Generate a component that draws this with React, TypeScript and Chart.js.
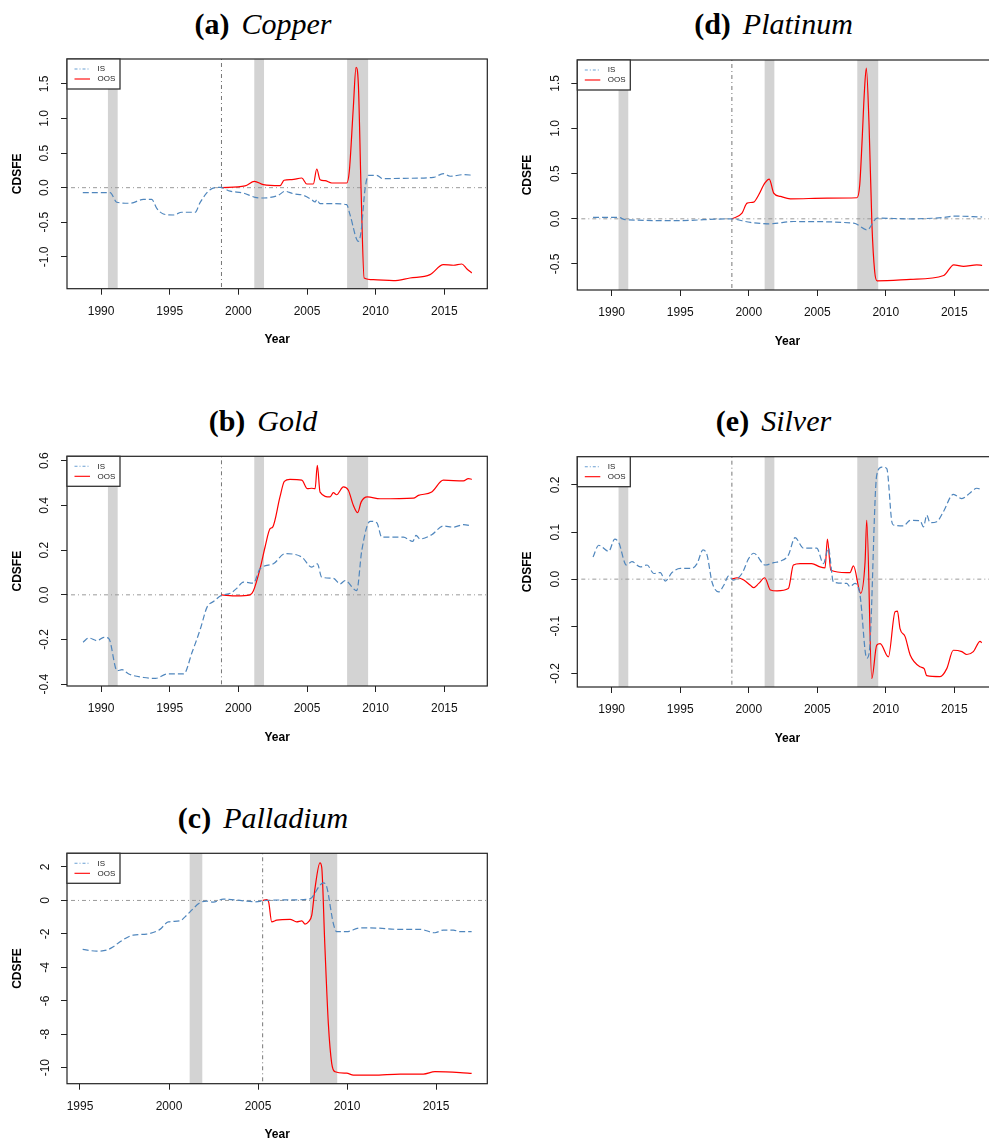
import React, { useEffect, useRef } from 'react';
import { Chart, registerables } from 'chart.js';

Chart.register(...registerables);

// ---------- data ----------
const recessions: [number, number][] = [
  [1990.5, 1991.21],
  [2001.16, 2001.87],
  [2007.92, 2009.45],
];
const oosStart = 1998.77;
const oosStartPalladium = 2005.26;

const yearTicks = [1990, 1995, 2000, 2005, 2010, 2015];
const yearTicksPalladium = [1995, 2000, 2005, 2010, 2015];
const copperYTicks = [-1, -0.5, 0, 0.5, 1, 1.5];
const goldYTicks = [-0.4, -0.2, 0, 0.2, 0.4, 0.6];
const palladiumYTicks = [-10, -8, -6, -4, -2, 0, 2];
const platinumYTicks = [-0.5, 0, 0.5, 1, 1.5];
const silverYTicks = [-0.2, -0.1, 0, 0.1, 0.2];

const copperIS: [number, number][] = [
  [1988.67, -0.07], [1990.66, -0.07], [1991.14, -0.21], [1992.11, -0.225], [1993.08, -0.17],
  [1993.69, -0.17], [1994.06, -0.3], [1994.54, -0.38], [1995.27, -0.395], [1995.88, -0.355],
  [1996.85, -0.355], [1997.21, -0.215], [1997.94, -0.03], [1998.67, 0.005], [1999.4, -0.05],
  [2000.36, -0.077], [2001.22, -0.139], [2001.82, -0.149], [2002.91, -0.11], [2003.4, -0.052],
  [2004.0, -0.087], [2004.73, -0.11], [2005.34, -0.173], [2005.59, -0.207], [2005.71, -0.173],
  [2005.95, -0.231], [2006.68, -0.231], [2007.89, -0.245], [2008.13, -0.39], [2008.74, -0.775],
  [2008.94, -0.63], [2009.22, -0.03], [2009.47, 0.179], [2010.08, 0.179], [2010.52, 0.13],
  [2011.77, 0.135], [2014.2, 0.15], [2014.93, 0.202], [2015.42, 0.165], [2016.39, 0.188],
  [2017.07, 0.18],
];
const copperOOS: [number, number][] = [
  [1998.79, 0], [2000.49, 0.025], [2001.17, 0.092], [2001.82, 0.043], [2003.04, 0.029],
  [2003.33, 0.107], [2003.89, 0.116], [2004.62, 0.14], [2004.98, 0.053], [2005.46, 0.053],
  [2005.71, 0.27], [2005.95, 0.116], [2006.31, 0.101], [2006.8, 0.068], [2007.89, 0.068],
  [2008.08, 0.237], [2008.37, 1.152], [2008.57, 1.74], [2008.74, 1.49], [2008.94, -0.05],
  [2009.16, -1.305], [2009.83, -1.33], [2011.29, -1.344], [2012.5, -1.305], [2013.96, -1.257],
  [2014.93, -1.113], [2015.66, -1.121], [2016.27, -1.103], [2016.63, -1.171], [2017.0, -1.233],
];

const goldIS: [number, number][] = [
  [1988.69, -0.212], [1989.1, -0.193], [1989.71, -0.205], [1990.2, -0.19], [1990.56, -0.195],
  [1991.17, -0.34], [1991.53, -0.335], [1992.02, -0.354], [1993.11, -0.37], [1993.96, -0.374],
  [1994.81, -0.354], [1996.02, -0.354], [1996.63, -0.257], [1997.23, -0.153], [1997.72, -0.055],
  [1998.21, -0.029], [1998.74, -0.003], [1999.42, 0.007], [1999.9, 0.03], [2000.36, 0.057],
  [2001.09, 0.052], [2001.58, 0.117], [2002.55, 0.139], [2003.4, 0.184], [2004.62, 0.169],
  [2005.34, 0.124], [2005.75, 0.139], [2006.07, 0.079], [2006.92, 0.074], [2007.41, 0.049],
  [2007.77, 0.064], [2008.62, 0.019], [2008.99, 0.199], [2009.59, 0.329], [2010.08, 0.323],
  [2010.44, 0.258], [2012.02, 0.258], [2012.7, 0.239], [2012.94, 0.266], [2013.23, 0.25],
  [2014.08, 0.269], [2014.93, 0.308], [2015.66, 0.303], [2016.39, 0.314], [2017.0, 0.308],
];
const goldOOS: [number, number][] = [
  [1998.77, 0], [1999.9, -0.005], [2000.85, 0.0], [2001.09, 0.017], [2001.58, 0.117],
  [2001.94, 0.213], [2002.31, 0.296], [2002.5, 0.303], [2003.03, 0.438], [2003.35, 0.508],
  [2003.76, 0.517], [2004.62, 0.513], [2005.03, 0.475], [2005.34, 0.477], [2005.59, 0.475],
  [2005.75, 0.58], [2005.95, 0.46], [2006.68, 0.438], [2006.92, 0.457], [2007.16, 0.448],
  [2007.65, 0.483], [2008.01, 0.468], [2008.38, 0.4], [2008.69, 0.368], [2008.94, 0.415],
  [2009.4, 0.438], [2010.32, 0.43], [2012.75, 0.433], [2013.11, 0.445], [2014.08, 0.46],
  [2014.93, 0.513], [2016.39, 0.51], [2016.75, 0.52], [2017.0, 0.517],
];

const palladiumIS: [number, number][] = [
  [1995.15, -2.93], [1995.94, -3.03], [1996.5, -2.97], [1996.87, -2.77], [1997.25, -2.47],
  [1997.99, -2.07], [1998.75, -2.01], [1999.49, -1.73], [1999.96, -1.28], [2000.62, -1.22],
  [2000.9, -0.98], [2001.18, -0.68], [2001.74, -0.14], [2002.12, -0.04], [2002.49, -0.1],
  [2003.05, 0.08], [2003.99, 0.0], [2004.83, -0.08], [2005.49, 0.0], [2006.42, 0.03],
  [2007.74, 0.06], [2008.02, 0.17], [2008.48, 0.91], [2008.67, 1.05], [2008.86, 0.81],
  [2009.23, -1.37], [2009.42, -1.87], [2009.98, -1.87], [2010.73, -1.64], [2011.29, -1.64],
  [2012.98, -1.73], [2014.1, -1.73], [2014.94, -1.93], [2015.41, -1.77], [2015.97, -1.77],
  [2016.35, -1.87], [2017.0, -1.87],
];
const palladiumOOS: [number, number][] = [
  [2005.26, 0], [2005.49, 0.05], [2005.6, -0.1], [2005.77, -1.28], [2006.05, -1.18],
  [2006.8, -1.13], [2007.17, -1.28], [2007.46, -1.22], [2007.64, -1.41], [2007.83, -1.28],
  [2008.02, -0.88], [2008.2, 0.72], [2008.48, 2.25], [2008.58, 1.97], [2008.75, -2.57],
  [2008.95, -7.35], [2009.14, -9.74], [2009.33, -10.24], [2009.98, -10.33], [2010.36, -10.44],
  [2011.48, -10.44], [2012.98, -10.38], [2014.29, -10.38], [2014.94, -10.24], [2016.35, -10.29],
  [2017.0, -10.34],
];

const platinumIS: [number, number][] = [
  [1988.64, 0.015], [1990.51, 0.015], [1990.99, -0.01], [1994.77, -0.02], [1998.66, 0.0],
  [2000.12, -0.04], [2001.58, -0.055], [2003.28, -0.03], [2007.66, -0.048], [2008.64, -0.122],
  [2009.37, 0.007], [2011.8, 0.0], [2014.23, 0.015], [2014.96, 0.03], [2017.03, 0.02],
];
const platinumOOS: [number, number][] = [
  [1998.77, 0], [1999.51, 0.063], [1999.88, 0.174], [2000.36, 0.185], [2000.73, 0.266],
  [2001.17, 0.395], [2001.5, 0.44], [2001.82, 0.285], [2002.31, 0.248], [2003.04, 0.221],
  [2005.72, 0.229], [2007.9, 0.233], [2008.1, 0.377], [2008.27, 0.857], [2008.44, 1.41],
  [2008.58, 1.669], [2008.78, 1.04], [2008.99, -0.066], [2009.19, -0.583], [2009.37, -0.687],
  [2011.8, -0.671], [2014.23, -0.627], [2014.96, -0.509], [2015.67, -0.527], [2016.64, -0.509],
  [2017.03, -0.516],
];

const silverIS: [number, number][] = [
  [1988.64, 0.047], [1989.05, 0.072], [1989.78, 0.059], [1990.22, 0.085], [1990.51, 0.078],
  [1991.07, 0.03], [1991.48, 0.037], [1992.09, 0.026], [1992.58, 0.03], [1993.07, 0.012],
  [1993.55, 0.014], [1993.91, -0.004], [1994.4, 0.014], [1995.01, 0.023], [1995.86, 0.023],
  [1996.23, 0.033], [1996.66, 0.062], [1996.96, 0.051], [1997.32, -0.006], [1997.81, -0.027],
  [1998.18, -0.013], [1998.54, 0.007], [1998.85, -0.002], [1999.51, 0.012], [2000.0, 0.044],
  [2000.36, 0.055], [2001.21, 0.03], [2001.82, 0.035], [2002.29, 0.038], [2002.89, 0.051],
  [2003.38, 0.088], [2003.99, 0.066], [2004.96, 0.066], [2005.45, 0.033], [2005.81, 0.066],
  [2006.18, -0.006], [2007.15, -0.009], [2007.39, -0.016], [2007.76, -0.009], [2008.12, -0.034],
  [2008.61, -0.168], [2008.8, -0.154], [2009.34, 0.221], [2009.71, 0.238], [2010.07, 0.235],
  [2010.44, 0.122], [2010.56, 0.115], [2011.29, 0.113], [2011.78, 0.125], [2012.5, 0.124],
  [2012.75, 0.111], [2012.99, 0.136], [2013.23, 0.12], [2013.72, 0.122], [2014.2, 0.143],
  [2014.93, 0.18], [2015.55, 0.171], [2016.15, 0.183], [2016.64, 0.193], [2017.0, 0.19],
];
const silverOOS: [number, number][] = [
  [1998.77, 0], [1999.15, 0.003], [1999.64, -0.002], [2000.12, -0.013], [2000.36, -0.018],
  [2000.73, -0.009], [2001.17, 0.003], [2001.58, -0.023], [2002.07, -0.025], [2002.89, -0.02],
  [2003.26, 0.03], [2003.75, 0.033], [2004.6, 0.033], [2005.2, 0.026], [2005.57, 0.024],
  [2005.74, 0.085], [2005.99, 0.019], [2007.15, 0.014], [2007.39, 0.014], [2007.64, 0.028],
  [2008.17, -0.03], [2008.49, 0.037], [2008.61, 0.125], [2008.98, -0.211], [2009.34, -0.14],
  [2009.59, -0.137], [2010.19, -0.165], [2010.68, -0.069], [2010.85, -0.068], [2011.04, -0.105],
  [2011.41, -0.122], [2011.78, -0.161], [2012.5, -0.186], [2012.8, -0.19], [2012.99, -0.205],
  [2013.96, -0.207], [2014.45, -0.19], [2014.93, -0.151], [2015.55, -0.154], [2015.91, -0.16],
  [2016.39, -0.154], [2016.88, -0.132], [2017.0, -0.135],
];

// ---------- layout ----------
type Panel = {
  letter: string; name: string;
  L: number; T: number; R: number; B: number;
  xMin: number; xMax: number; yMin: number; yMax: number;
  xTicks: number[]; yTicks: number[]; yDec: number;
  is: [number, number][]; oos: [number, number][]; vline: number;
  titleX: number; titleBase: number; yGap: number;
};

const panels: Panel[] = [
  { letter: '(a)', name: 'Copper', L: 67, T: 59, R: 487.3, B: 288.7, xMin: 1987.52, xMax: 2018.13,
    yMin: -1.46, yMax: 1.86, xTicks: yearTicks, yTicks: copperYTicks, yDec: 1, is: copperIS, oos: copperOOS,
    vline: oosStart, titleX: 263, titleBase: 34, yGap: 22 },
  { letter: '(b)', name: 'Gold', L: 67, T: 456.3, R: 487.3, B: 686, xMin: 1987.52, xMax: 2018.13,
    yMin: -0.408, yMax: 0.62, xTicks: yearTicks, yTicks: goldYTicks, yDec: 1, is: goldIS, oos: goldOOS,
    vline: oosStart, titleX: 263, titleBase: 431, yGap: 22 },
  { letter: '(c)', name: 'Palladium', L: 67, T: 853.3, R: 487.3, B: 1083.7, xMin: 1994.27, xMax: 2017.88,
    yMin: -10.957, yMax: 2.819, xTicks: yearTicksPalladium, yTicks: palladiumYTicks, yDec: 0, is: palladiumIS,
    oos: palladiumOOS, vline: oosStartPalladium, titleX: 263, titleBase: 828, yGap: 21 },
  { letter: '(d)', name: 'Platinum', L: 577.3, T: 60, R: 997.6, B: 290, xMin: 1987.49, xMax: 2018.16,
    yMin: -0.788, yMax: 1.758, xTicks: yearTicks, yTicks: platinumYTicks, yDec: 1, is: platinumIS,
    oos: platinumOOS, vline: oosStart, titleX: 773.5, titleBase: 34, yGap: 21.5 },
  { letter: '(e)', name: 'Silver', L: 577.3, T: 456.7, R: 997.6, B: 687, xMin: 1987.49, xMax: 2018.16,
    yMin: -0.229, yMax: 0.26, xTicks: yearTicks, yTicks: silverYTicks, yDec: 1, is: silverIS,
    oos: silverOOS, vline: oosStart, titleX: 773.5, titleBase: 431.5, yGap: 21.5 },
];

const SANS = "'Liberation Sans', Arial, Helvetica, sans-serif";
const SERIF = "'Liberation Serif', 'Times New Roman', serif";

function widestLabel(labels: string[], size: number) {
  const c = document.createElement('canvas').getContext('2d')!;
  c.font = `${size}px ${SANS}`;
  return Math.max(...labels.map((l) => c.measureText(l).width));
}

const rPlugin = {
  id: 'rPanel',
  beforeDatasetsDraw(chart: any, _args: any, opts: any) {
    const { ctx, chartArea: a, scales } = chart;
    const x = scales.x, y = scales.y;
    ctx.save();
    ctx.beginPath();
    ctx.rect(a.left, a.top, a.right - a.left, a.bottom - a.top);
    ctx.clip();
    ctx.fillStyle = '#D3D3D3';
    for (const [s, e] of recessions) {
      const x0 = x.getPixelForValue(s);
      const x1 = x.getPixelForValue(e);
      ctx.fillRect(x0, a.top, x1 - x0, a.bottom - a.top);
    }
    ctx.lineWidth = 1;
    ctx.setLineDash([1, 3, 4, 3]);
    ctx.strokeStyle = '#9a9a9a';
    const y0 = y.getPixelForValue(0);
    ctx.beginPath();
    ctx.moveTo(a.left, y0);
    ctx.lineTo(a.right, y0);
    ctx.stroke();
    ctx.strokeStyle = '#777';
    const xv = x.getPixelForValue(opts.vline);
    ctx.beginPath();
    ctx.moveTo(xv, a.top);
    ctx.lineTo(xv, a.bottom);
    ctx.stroke();
    ctx.restore();
  },
  afterDraw(chart: any) {
    const { ctx, chartArea: a } = chart;
    ctx.save();
    ctx.setLineDash([]);
    ctx.strokeStyle = '#222';
    ctx.lineWidth = 1.2;
    ctx.strokeRect(a.left, a.top, a.right - a.left, a.bottom - a.top);
    // legend
    const lx = a.left, ly = a.top, lw = 53, lh = 30;
    ctx.fillStyle = '#fff';
    ctx.fillRect(lx, ly, lw, lh);
    ctx.strokeStyle = '#333';
    ctx.lineWidth = 1.3;
    ctx.strokeRect(lx, ly, lw, lh);
    ctx.lineWidth = 1.1;
    ctx.strokeStyle = '#6a9fd2';
    ctx.setLineDash([3, 2, 1, 2]);
    ctx.beginPath();
    ctx.moveTo(lx + 7.5, ly + 10);
    ctx.lineTo(lx + 23, ly + 10);
    ctx.stroke();
    ctx.setLineDash([]);
    ctx.strokeStyle = '#ff0000';
    ctx.beginPath();
    ctx.moveTo(lx + 7.5, ly + 20);
    ctx.lineTo(lx + 23, ly + 20);
    ctx.stroke();
    ctx.fillStyle = '#222';
    ctx.font = `8px ${SANS}`;
    ctx.textBaseline = 'middle';
    ctx.textAlign = 'left';
    ctx.fillText('IS', lx + 30.5, ly + 10);
    ctx.fillText('OOS', lx + 30.5, ly + 20);
    ctx.restore();
  },
};

function PanelChart({ p }: { p: Panel }) {
  const ref = useRef<HTMLCanvasElement>(null);
  const canvasLeft = Math.round(p.L - 57);
  const canvasTop = Math.round(p.T) - 22;
  const canvasW = Math.round(p.R + 10 - canvasLeft);
  const canvasH = Math.round(p.B + 58.7 - canvasTop);

  useEffect(() => {
    const yAxisW = p.L - canvasLeft;
    const xAxisH = canvasTop + canvasH - p.B;
    const padTop = p.T - canvasTop;
    const padRight = canvasLeft + canvasW - p.R;
    const yLabels = p.yTicks.map((v) => v.toFixed(p.yDec));
    const widest = widestLabel(yLabels, 12);
    const yPad = p.yGap - 6 - widest / 2;

    const chart = new Chart(ref.current!, {
      type: 'line',
      data: {
        datasets: [
          {
            label: 'IS',
            data: p.is.map(([x, y]) => ({ x, y })),
            borderColor: '#4f86bd',
            borderWidth: 1.2,
            borderDash: [6, 3],
            pointRadius: 0,
            fill: false,
            cubicInterpolationMode: 'monotone',
            borderJoinStyle: 'round',
          },
          {
            label: 'OOS',
            data: p.oos.map(([x, y]) => ({ x, y })),
            borderColor: '#ff0000',
            borderWidth: 1.2,
            pointRadius: 0,
            fill: false,
            cubicInterpolationMode: 'monotone',
            borderJoinStyle: 'round',
          },
        ],
      },
      options: {
        animation: false,
        responsive: false,
        maintainAspectRatio: false,
        events: [],
        layout: { padding: { top: padTop, right: padRight, left: 0, bottom: 0 } },
        plugins: {
          legend: { display: false },
          tooltip: { enabled: false },
          title: { display: false },
          rPanel: { vline: p.vline },
        } as any,
        scales: {
          x: {
            type: 'linear',
            min: p.xMin,
            max: p.xMax,
            afterBuildTicks: (s: any) => { s.ticks = p.xTicks.map((value) => ({ value })); },
            afterFit: (s: any) => { s.height = xAxisH; },
            grid: { drawOnChartArea: false, drawTicks: true, tickLength: 6, tickColor: '#222', color: '#222' },
            border: { display: false },
            ticks: {
              autoSkip: false, maxRotation: 0, minRotation: 0, padding: 9.8, color: '#111',
              font: { family: SANS, size: 12 },
              callback: (v: any) => String(v),
            },
            title: { display: true, text: 'Year', color: '#000', padding: 0, font: { family: SANS, size: 12, weight: 'bold' } },
          },
          y: {
            type: 'linear',
            min: p.yMin,
            max: p.yMax,
            afterBuildTicks: (s: any) => { s.ticks = p.yTicks.map((value) => ({ value })); },
            afterFit: (s: any) => { s.width = yAxisW; },
            grid: { drawOnChartArea: false, drawTicks: true, tickLength: 6, tickColor: '#222', color: '#222' },
            border: { display: false },
            ticks: {
              autoSkip: false, minRotation: 90, maxRotation: 90, crossAlign: 'center', padding: yPad, color: '#111',
              font: { family: SANS, size: 12 },
              callback: (v: any) => Number(v).toFixed(p.yDec),
            },
            title: { display: true, text: 'CDSFE', color: '#000', padding: 0, font: { family: SANS, size: 12, weight: 'bold' } },
          },
        },
      } as any,
      plugins: [rPlugin],
    });
    return () => chart.destroy();
  }, []);

  return (
    <canvas
      ref={ref}
      width={canvasW}
      height={canvasH}
      style={{ position: 'absolute', left: canvasLeft, top: canvasTop, width: canvasW, height: canvasH }}
    />
  );
}

function Title({ p }: { p: Panel }) {
  const size = 30;
  return (
    <div
      style={{
        position: 'absolute',
        left: p.titleX - 200,
        width: 400,
        top: p.titleBase - 25.1,
        textAlign: 'center',
        fontFamily: SERIF,
        fontSize: size,
        lineHeight: `${size}px`,
        whiteSpace: 'nowrap',
        color: '#000',
      }}
    >
      <span style={{ fontWeight: 'bold' }}>{p.letter}</span>
      <span style={{ fontStyle: 'italic', marginLeft: 12 }}>{p.name}</span>
    </div>
  );
}

export default function App() {
  return (
    <div
      style={{
        position: 'fixed',
        left: 0,
        top: 0,
        width: 989,
        height: 1142,
        overflow: 'hidden',
        background: '#fff',
      }}
    >
      {panels.map((p) => (
        <React.Fragment key={p.letter}>
          <Title p={p} />
          <PanelChart p={p} />
        </React.Fragment>
      ))}
    </div>
  );
}
